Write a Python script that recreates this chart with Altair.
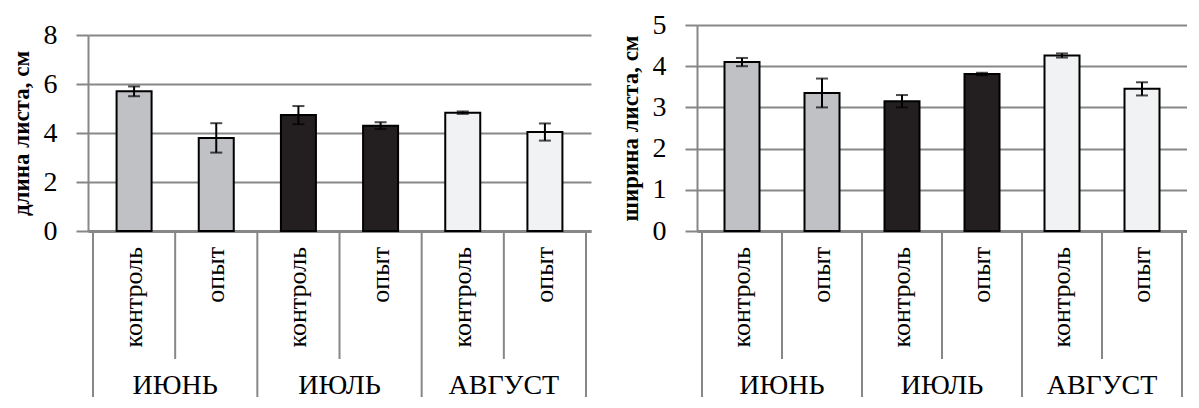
import altair as alt
import pandas as pd

months = ["ИЮНЬ", "ИЮЛЬ", "АВГУСТ"]
treatments = ["контроль", "опыт"]
length_mean = [5.70, 3.80, 4.73, 4.30, 4.83, 4.04]
length_err = [0.20, 0.60, 0.37, 0.14, 0.05, 0.35]
width_mean = [4.10, 3.35, 3.15, 3.81, 4.26, 3.45]
width_err = [0.10, 0.35, 0.15, 0.03, 0.05, 0.16]
fill_colors = ["#bfc1c4", "#231f20", "#f1f2f3"]

FONT = "Liberation Serif"
GRID = "#878787"
PH = 206          # plot height
INNER_LEN = 128   # inner separator length below axis
GROUP_LEN = 166   # group separator length below axis


def make_df(means, errs):
    rows = []
    for i, (m, e) in enumerate(zip(means, errs)):
        rows.append({
            "month": months[i // 2],
            "treat": treatments[i % 2],
            "pos": i + 0.5,
            "mean": m,
            "lo": m - e,
            "hi": m + e,
        })
    return pd.DataFrame(rows)


month_df = pd.DataFrame({"month": months, "pos": [2 * k + 1 for k in range(len(months))]})
group_df = pd.DataFrame({"pos": [2 * k for k in range(len(months) + 1)]})
inner_df = pd.DataFrame({"pos": [2 * k + 1 for k in range(len(months))]})


def panel(means, errs, ymax, step, title, width, top_px):
    df = make_df(means, errs)
    n = len(df)
    xs = alt.X("pos:Q", scale=alt.Scale(domain=[0, n], nice=False, zero=False),
               axis=alt.Axis(labels=False, ticks=False, grid=False, title=None,
                             domainColor=GRID, domainWidth=3))
    yscale = alt.Scale(domain=[0, ymax], nice=False, range=[PH, top_px])
    yaxis = alt.Axis(values=list(range(0, ymax + 1, step)), grid=True, gridColor=GRID,
                     gridWidth=2, domainColor=GRID, domainWidth=2, tickColor=GRID,
                     tickWidth=2, tickSize=12, labelFont=FONT, labelFontSize=28,
                     labelColor="black", labelPadding=19, title=title, titleFont=FONT,
                     titleFontSize=23, titleFontWeight="bold", titleColor="black",
                     titlePadding=10)

    bars = alt.Chart(df).mark_bar(size=35, stroke="black", strokeWidth=2).encode(
        x=xs,
        y=alt.Y("mean:Q", scale=yscale, axis=yaxis),
        color=alt.Color("month:N", scale=alt.Scale(domain=months, range=fill_colors), legend=None),
    )
    whisk = alt.Chart(df).mark_rule(color="black", strokeWidth=2).encode(
        x="pos:Q", y="lo:Q", y2="hi:Q")
    cap_hi = alt.Chart(df).mark_tick(orient="horizontal", size=12, thickness=2, color="black").encode(
        x="pos:Q", y="hi:Q")
    cap_lo = alt.Chart(df).mark_tick(orient="horizontal", size=12, thickness=2, color="black").encode(
        x="pos:Q", y="lo:Q")

    cat_text = alt.Chart(df).mark_text(angle=270, align="right", baseline="middle",
                                       font=FONT, fontSize=26, color="black").encode(
        x="pos:Q", y=alt.value(PH + 16), text="treat:N")
    month_text = alt.Chart(month_df).mark_text(align="center", baseline="middle",
                                               font=FONT, fontSize=28, color="black").encode(
        x="pos:Q", y=alt.value(PH + 155), text="month:N")
    group_lines = alt.Chart(group_df).mark_rule(color=GRID, strokeWidth=2).encode(
        x="pos:Q", y=alt.value(PH), y2=alt.value(PH + GROUP_LEN))
    inner_lines = alt.Chart(inner_df).mark_rule(color=GRID, strokeWidth=2).encode(
        x="pos:Q", y=alt.value(PH), y2=alt.value(PH + INNER_LEN))

    return alt.layer(bars, whisk, cap_hi, cap_lo, group_lines, inner_lines,
                     cat_text, month_text).properties(width=width, height=PH)


left = panel(length_mean, length_err, 8, 2, "длина листа, см", 503, 10)
right = panel(width_mean, width_err, 5, 1, "ширина листа, см", 490, 0)

chart = alt.hconcat(left, right, spacing=106, bounds="flush").properties(
    padding={"left": 2, "top": 3, "right": 0, "bottom": 0}
).configure_view(strokeWidth=0).resolve_scale(color="shared")

chart.save("out.html", embed_options={"renderer": "svg", "actions": False})
